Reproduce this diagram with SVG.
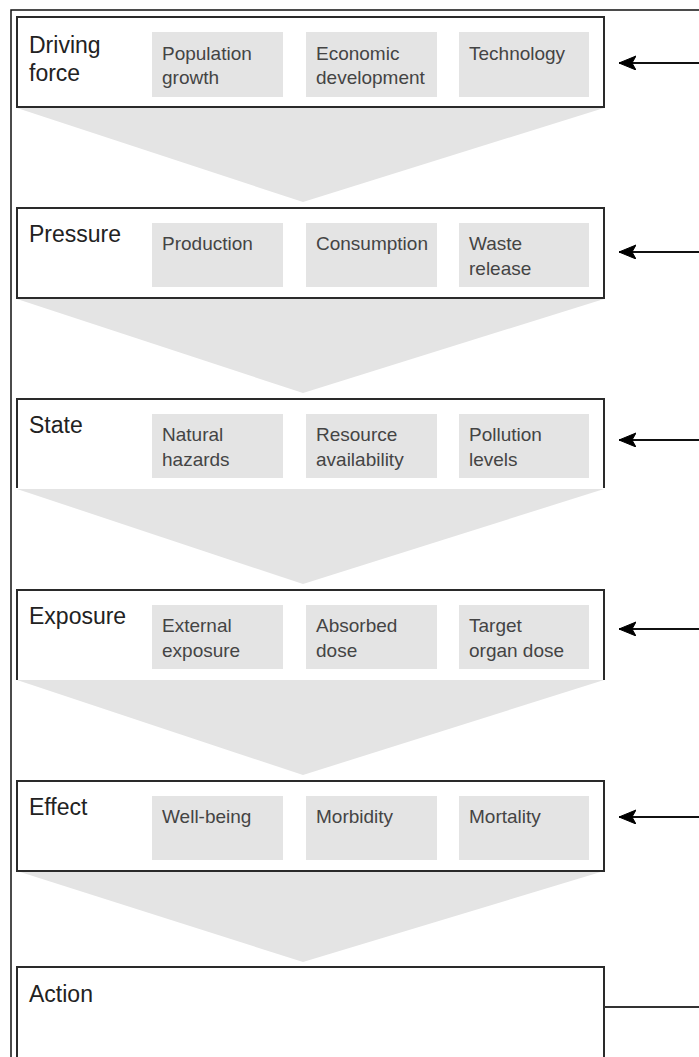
<svg xmlns="http://www.w3.org/2000/svg" width="699" height="1057" viewBox="0 0 699 1057">
<style>
.frame{fill:none;stroke:#111;stroke-width:1.5}
.box{fill:#fff;stroke:#2a2a2a;stroke-width:2}
.open{fill:none;stroke:#2a2a2a;stroke-width:2}
.funnel{fill:#e4e4e4;stroke:none}
.cell{fill:#e4e4e4;stroke:none}
.lbl{font-family:"Liberation Sans",Arial,sans-serif;font-size:23px;fill:#222}
.ct{font-family:"Liberation Sans",Arial,sans-serif;font-size:19px;fill:#444}
.conn{fill:none;stroke:#111;stroke-width:1.8}
.conn2{fill:none;stroke:#333;stroke-width:2}
</style>
<defs>
<marker id="ah" markerUnits="userSpaceOnUse" markerWidth="20" markerHeight="16" refX="17" refY="7" orient="auto">
<path d="M0,0 L17,7 L0,14 L4,7 Z" fill="#000" stroke="#000" stroke-width="1" stroke-linejoin="round"/>
</marker>
</defs>
<rect width="699" height="1057" fill="#fff"/>
<path class="frame" d="M11,1057 L11,10 L699,10"/>

<g id="funnels">
<polygon class="funnel" points="17,108 604,108 303,202"/>
<polygon class="funnel" points="17,299 604,299 303,393"/>
<polygon class="funnel" points="17,489 604,489 303,584"/>
<polygon class="funnel" points="17,680 604,680 303,775"/>
<polygon class="funnel" points="17,871 604,871 303,962"/>
</g>

<g id="driving">
<rect class="box" x="17" y="17" width="587" height="90"/>
<rect class="cell" x="152" y="32" width="131" height="65"/>
<rect class="cell" x="306" y="32" width="131" height="65"/>
<rect class="cell" x="459" y="32" width="130" height="65"/>
<text class="lbl" x="29" y="53">Driving</text>
<text class="lbl" x="29" y="81">force</text>
<text class="ct" x="162" y="60">Population</text>
<text class="ct" x="162" y="84">growth</text>
<text class="ct" x="316" y="60">Economic</text>
<text class="ct" x="316" y="84">development</text>
<text class="ct" x="469" y="60">Technology</text>
</g>

<g id="pressure">
<rect class="box" x="17" y="208" width="587" height="90"/>
<rect class="cell" x="152" y="223" width="131" height="64"/>
<rect class="cell" x="306" y="223" width="131" height="64"/>
<rect class="cell" x="459" y="223" width="130" height="64"/>
<text class="lbl" x="29" y="242">Pressure</text>
<text class="ct" x="162" y="250">Production</text>
<text class="ct" x="316" y="250">Consumption</text>
<text class="ct" x="469" y="250">Waste</text>
<text class="ct" x="469" y="275">release</text>
</g>

<g id="state">
<rect x="17" y="399" width="587" height="89" fill="#fff"/>
<path class="open" d="M17,488 L17,399 L604,399 L604,488"/>
<rect class="cell" x="152" y="414" width="131" height="64"/>
<rect class="cell" x="306" y="414" width="131" height="64"/>
<rect class="cell" x="459" y="414" width="130" height="64"/>
<text class="lbl" x="29" y="433">State</text>
<text class="ct" x="162" y="441">Natural</text>
<text class="ct" x="162" y="466">hazards</text>
<text class="ct" x="316" y="441">Resource</text>
<text class="ct" x="316" y="466">availability</text>
<text class="ct" x="469" y="441">Pollution</text>
<text class="ct" x="469" y="466">levels</text>
</g>

<g id="exposure">
<rect x="17" y="590" width="587" height="90" fill="#fff"/>
<path class="open" d="M17,680 L17,590 L604,590 L604,680"/>
<rect class="cell" x="152" y="605" width="131" height="64"/>
<rect class="cell" x="306" y="605" width="131" height="64"/>
<rect class="cell" x="459" y="605" width="130" height="64"/>
<text class="lbl" x="29" y="624">Exposure</text>
<text class="ct" x="162" y="632">External</text>
<text class="ct" x="162" y="657">exposure</text>
<text class="ct" x="316" y="632">Absorbed</text>
<text class="ct" x="316" y="657">dose</text>
<text class="ct" x="469" y="632">Target</text>
<text class="ct" x="469" y="657">organ dose</text>
</g>

<g id="effect">
<rect class="box" x="17" y="781" width="587" height="90"/>
<rect class="cell" x="152" y="796" width="131" height="64"/>
<rect class="cell" x="306" y="796" width="131" height="64"/>
<rect class="cell" x="459" y="796" width="130" height="64"/>
<text class="lbl" x="29" y="815">Effect</text>
<text class="ct" x="162" y="823">Well-being</text>
<text class="ct" x="316" y="823">Morbidity</text>
<text class="ct" x="469" y="823">Mortality</text>
</g>

<g id="action">
<rect class="box" x="17" y="967" width="587" height="100"/>
<text class="lbl" x="29" y="1002">Action</text>
</g>

<g id="connectors">
<line class="conn" x1="699" y1="63" x2="619" y2="63" marker-end="url(#ah)"/>
<line class="conn" x1="699" y1="252" x2="619" y2="252" marker-end="url(#ah)"/>
<line class="conn" x1="699" y1="440" x2="619" y2="440" marker-end="url(#ah)"/>
<line class="conn" x1="699" y1="629" x2="619" y2="629" marker-end="url(#ah)"/>
<line class="conn" x1="699" y1="817" x2="619" y2="817" marker-end="url(#ah)"/>
<line class="conn2" x1="604" y1="1007" x2="699" y2="1007"/>
</g>
</svg>
